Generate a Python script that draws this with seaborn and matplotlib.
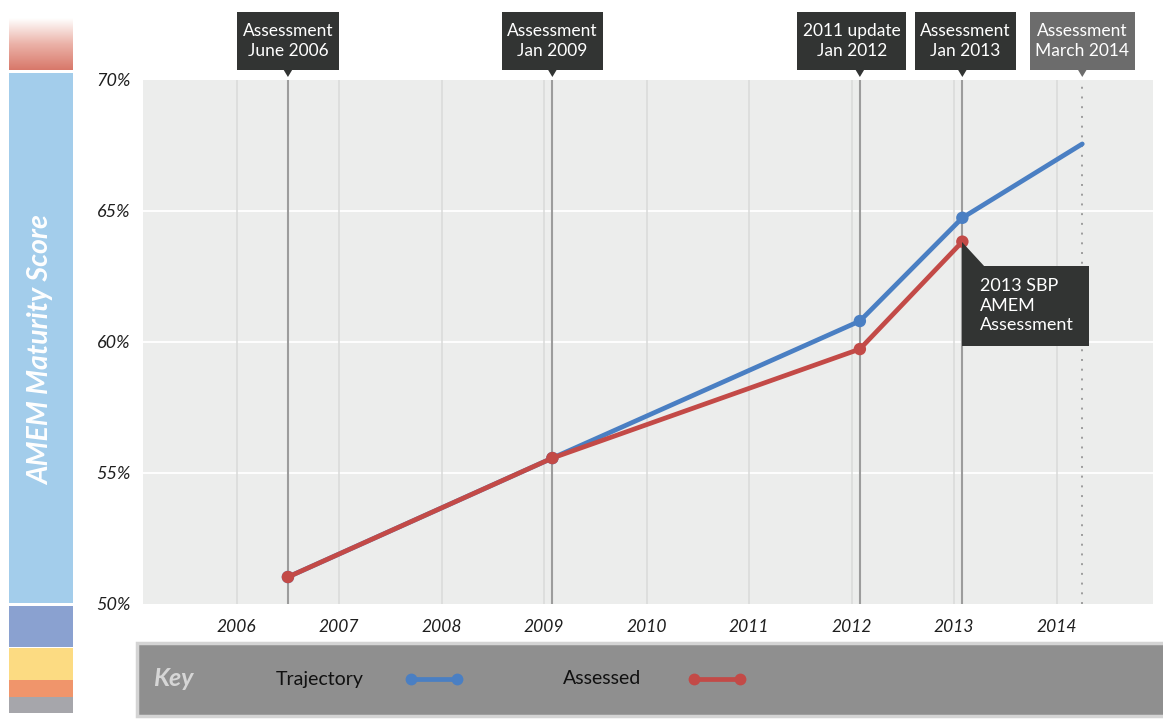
import numpy as np
import pandas as pd
import matplotlib
matplotlib.use("Agg")
import matplotlib.pyplot as plt
import matplotlib.transforms as mtransforms
from matplotlib.patches import Rectangle, Polygon
from matplotlib.lines import Line2D
from matplotlib.colors import LinearSegmentedColormap
import seaborn as sns

# ---- data -------------------------------------------------------------
traj_years = [2006.5, 2009.08, 2012.08, 2013.08, 2014.25]
traj_scores = [51.03, 55.57, 60.80, 64.74, 67.56]
traj_marked = [True, True, True, True, False]

assessed_years = [2006.5, 2009.08, 2012.08, 2013.08]
assessed_scores = [51.03, 55.57, 59.73, 63.83]

event_years = [2006.5, 2009.08, 2012.08, 2013.08, 2014.25]
event_labels = ["Assessment\nJune 2006", "Assessment\nJan 2009",
                "2011 update\nJan 2012", "Assessment\nJan 2013",
                "Assessment\nMarch 2014"]
event_planned = [False, False, False, False, True]

year_ticks = list(range(2006, 2015))
score_ticks = [50, 55, 60, 65, 70]
callout_text = "2013 SBP\nAMEM\nAssessment"

# ---- style ------------------------------------------------------------
BLUE = "#4a7fc3"
RED = "#c34a47"
DARK = "#323433"
PLAN = "#6c6c6c"

sns.set_theme(style="white")
plt.rcParams["font.family"] = ["Lato", "DejaVu Sans"]

W, H = 1163, 719
fig = plt.figure(figsize=(W / 100, H / 100), dpi=100)


def fx(x):
    return x / W


def fy(y):
    return 1 - y / H


ax = fig.add_axes([fx(143), fy(604), fx(1153) - fx(143), fy(80) - fy(604)])
ax.set_facecolor("#ecedec")
for s in ax.spines.values():
    s.set_visible(False)

ax.set_xlim(2005.086, 2014.94)
ax.set_ylim(50, 70)

# grid
for yv in score_ticks[1:-1]:
    ax.axhline(yv, color="white", lw=1.3, zorder=1)
for xv in year_ticks:
    ax.axvline(xv, color="#d9dad9", lw=1.1, zorder=1)

# milestone lines
for xv, planned in zip(event_years, event_planned):
    if planned:
        ax.axvline(xv, color="#9c9c9c", lw=1.4, ls=(0, (1, 4)), zorder=2)
    else:
        ax.axvline(xv, color="#9c9c9c", lw=1.5, zorder=2)

# series
df_traj = pd.DataFrame({"year": traj_years, "score": traj_scores,
                        "marked": traj_marked})
df_ass = pd.DataFrame({"year": assessed_years, "score": assessed_scores})

sns.lineplot(data=df_traj, x="year", y="score", color=BLUE, lw=3.4,
             ax=ax, zorder=3, legend=False)
sns.scatterplot(data=df_traj[df_traj["marked"]], x="year", y="score",
                color=BLUE, s=80, edgecolor="none", ax=ax, zorder=4,
                legend=False)
sns.lineplot(data=df_ass, x="year", y="score", color=RED, lw=3.4,
             ax=ax, zorder=5, legend=False)
sns.scatterplot(data=df_ass, x="year", y="score", color=RED, s=80,
                edgecolor="none", ax=ax, zorder=6, legend=False)

ax.set_xlabel("")
ax.set_ylabel("")
ax.set_xticks(year_ticks)
ax.set_xticklabels([str(y) for y in year_ticks], fontstyle="italic",
                   fontsize=12.5, color="#1e1e1e")
ax.set_yticks(score_ticks)
ax.set_yticklabels([f"{v}%" for v in score_ticks], fontstyle="italic",
                   fontsize=13, color="#1e1e1e")
ax.tick_params(axis="x", length=0, pad=11)
ax.tick_params(axis="y", length=0, pad=9)

# milestone flags above the plot (box 58 px tall, sitting on a pointer)
renderer = fig.canvas.get_renderer()
flag_shift = [0, 0, -8, 3, 0]          # horizontal nudge of the box, px
flag_top, flag_bottom = 12, 70          # px from the top of the figure
for xv, lab, planned, sh in zip(event_years, event_labels, event_planned,
                                flag_shift):
    fc = PLAN if planned else DARK
    ex, _ = ax.transData.transform((xv, 60))
    cx = ex + sh
    t = fig.text(fx(cx), fy((flag_top + flag_bottom) / 2), lab, ha="center",
                 va="center", color="white", fontsize=12.5, linespacing=1.35,
                 zorder=11)
    wbox = t.get_window_extent(renderer).width + 11
    fig.add_artist(Rectangle((fx(cx - wbox / 2), fy(flag_bottom)),
                             wbox / W, (flag_bottom - flag_top) / H,
                             transform=fig.transFigure, fc=fc, ec="none",
                             zorder=10))
    fig.add_artist(Polygon([(fx(ex - 4.5), fy(flag_bottom - 0.5)),
                            (fx(ex + 4.5), fy(flag_bottom - 0.5)),
                            (fx(ex), fy(flag_bottom + 7))], closed=True,
                           transform=fig.transFigure, fc=fc, ec="none",
                           zorder=10))

# callout on the latest assessment
px, py = ax.transData.transform((assessed_years[-1], assessed_scores[-1]))
anchor = mtransforms.Affine2D().translate(px, py)
fig.add_artist(Polygon([(0, 0), (0, -25), (23, -25)], closed=True,
                       fc=DARK, ec="none", transform=anchor, zorder=8))
fig.add_artist(Rectangle((0, -104), 127, 80, fc=DARK, ec="none",
                         transform=anchor, zorder=8))
txt_tr = mtransforms.offset_copy(ax.transData, fig=fig, x=18, y=-64,
                                 units="dots")
fig.text(assessed_years[-1], assessed_scores[-1], callout_text,
         transform=txt_tr, ha="left", va="center", color="white",
         fontsize=13, linespacing=1.25, zorder=9)

# left colour scale
bands = [
    (73, 603, "#a3cdeb"),
    (606, 647, "#8aa1d0"),
    (648, 680, "#fcdb82"),
    (680, 697, "#f0956b"),
    (697, 713, "#a6a6ab"),
]
for y0, y1, c in bands:
    fig.add_artist(Rectangle((fx(9), fy(y1)), fx(73) - fx(9), fy(y0) - fy(y1),
                             transform=fig.transFigure, fc=c, ec="none"))
gax = fig.add_axes([fx(9), fy(70), fx(73) - fx(9), fy(18) - fy(70)])
gcm = LinearSegmentedColormap.from_list("fade", ["#ffffff", "#ebb2a8", "#d8786a"])
gax.imshow(np.linspace(0, 1, 200).reshape(-1, 1), aspect="auto", cmap=gcm,
           extent=[0, 1, 0, 1], origin="upper")
gax.axis("off")
fig.text(fx(41), fy(350), "AMEM Maturity Score", rotation=90, ha="center",
         va="center", color="white", fontsize=20.5, fontstyle="italic",
         fontweight="bold")

# key strip
fig.add_artist(Rectangle((fx(137), fy(716)), fx(1170) - fx(137),
                         fy(643) - fy(716), transform=fig.transFigure,
                         fc="#8f8f8f", ec="#d4d4d4", lw=2.5))
ky = fy(679)
fig.text(fx(153), ky, "Key", ha="left", va="center", color="#d6d6d6",
         fontsize=18, fontstyle="italic", fontweight="bold")
fig.text(fx(276), ky, "Trajectory", ha="left", va="center", color="#111111",
         fontsize=14)
fig.text(fx(563), ky, "Assessed", ha="left", va="center", color="#111111",
         fontsize=14)
for x0, x1, c in [(411, 457, BLUE), (694, 740, RED)]:
    fig.add_artist(Line2D([fx(x0), fx(x1)], [ky, ky], transform=fig.transFigure,
                          color=c, lw=3.4, marker="o", ms=8.5, mec="none"))

fig.savefig("out.png", dpi=100, facecolor="white")
